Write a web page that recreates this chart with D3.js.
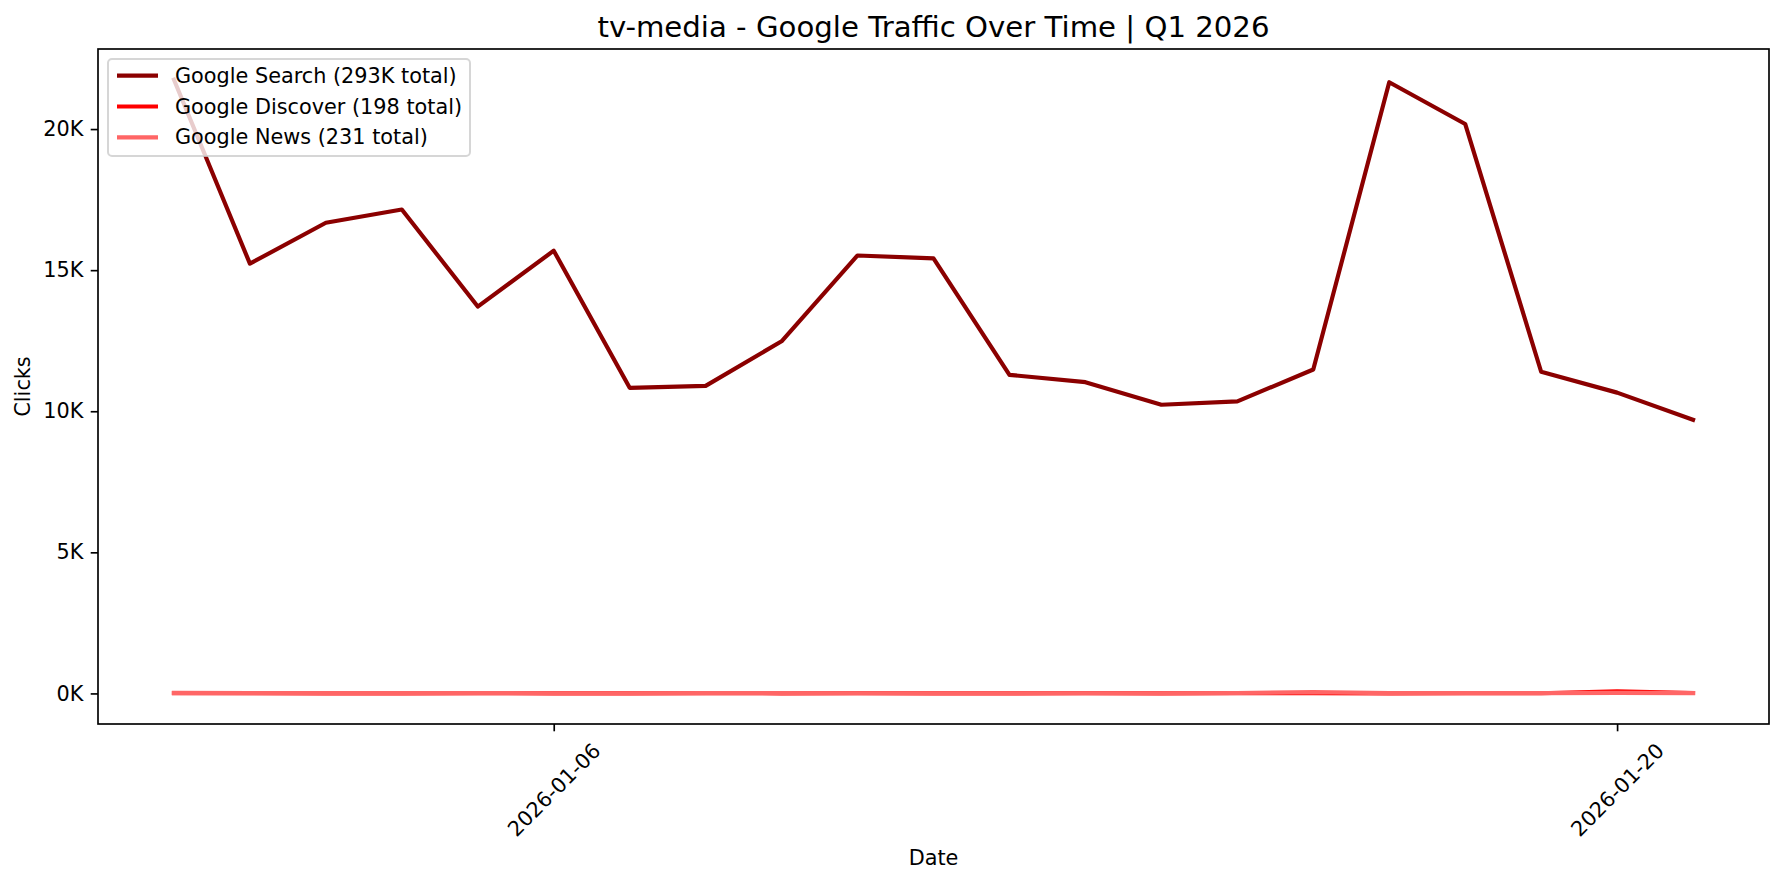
<!DOCTYPE html>
<html>
<head>
<meta charset="utf-8">
<script src="https://cdn.jsdelivr.net/npm/d3@7"></script>
<style>
  html, body { margin: 0; padding: 0; background: #fff; }
  svg { display: block; font-family: "DejaVu Sans", sans-serif; }
</style>
</head>
<body>
<svg id="chart" width="1784" height="883"></svg>
<script>
// ---- data ----
const dates = ["2026-01-01","2026-01-02","2026-01-03","2026-01-04","2026-01-05","2026-01-06","2026-01-07",
               "2026-01-08","2026-01-09","2026-01-10","2026-01-11","2026-01-12","2026-01-13","2026-01-14",
               "2026-01-15","2026-01-16","2026-01-17","2026-01-18","2026-01-19","2026-01-20","2026-01-21"];
const searchClicks = [21750,15230,16680,17150,13710,15690,10830,10900,12480,15520,15420,11290,11030,10230,
                      10350,11480,21660,20180,11400,10660,9700];
const discoverClicks = [8,6,5,5,7,4,5,6,5,6,5,4,6,5,7,9,5,6,7,70,17];
const newsClicks = [18,10,8,8,10,6,7,9,8,7,6,6,7,7,14,45,8,9,10,18,10];
const seriesNames = ["Google Search","Google Discover","Google News"];
const seriesColors = ["#8b0000","#ff0000","#ff6666"];
const xTickDates = ["2026-01-06","2026-01-20"];
const yTickValues = [0,5000,10000,15000,20000];
const titleText = "tv-media - Google Traffic Over Time | Q1 2026";
const xLabel = "Date";
const yLabel = "Clicks";

(function () {
  // ---- layout ----
  const W = 1784, H = 883;
  const pL = 98, pR = 1769, pT = 49, pB = 724;
  const svg = d3.select("#chart");
  svg.append("rect").attr("width", W).attr("height", H).attr("fill", "#fff");

  const parse = d3.utcParse("%Y-%m-%d");
  const xs = dates.map(parse);
  const series = [searchClicks, discoverClicks, newsClicks];

  const xMin = xs[0].getTime(), xMax = xs[xs.length - 1].getTime();
  const xPad = (xMax - xMin) * 0.05;
  const x = d3.scaleUtc().domain([new Date(xMin - xPad), new Date(xMax + xPad)]).range([pL, pR]);

  const allVals = series.flat();
  const vMin = d3.min(allVals), vMax = d3.max(allVals);
  const vPad = (vMax - vMin) * 0.05;
  const y = d3.scaleLinear().domain([vMin - vPad, vMax + vPad]).range([pB, pT]);

  // ---- lines ----
  const line = d3.line().x((d, i) => x(xs[i])).y(d => y(d));
  const plot = svg.append("g");
  series.forEach((s, k) => {
    plot.append("path")
      .datum(s)
      .attr("d", line)
      .attr("fill", "none")
      .attr("stroke", seriesColors[k])
      .attr("stroke-width", 4.17)
      .attr("stroke-linejoin", "round")
      .attr("stroke-linecap", "square");
  });

  // ---- axes ----
  const fs = 20.8;
  const yAxis = d3.axisLeft(y).tickValues(yTickValues).tickSize(7.3).tickPadding(7.3)
    .tickFormat(d => (d / 1000) + "K");
  const gy = svg.append("g").attr("transform", `translate(${pL},0)`).call(yAxis);
  gy.select(".domain").remove();
  gy.selectAll(".tick line").attr("stroke", "#000").attr("stroke-width", 1.67);
  gy.selectAll(".tick text").attr("font-size", fs).attr("fill", "#000")
    .attr("font-family", "DejaVu Sans, sans-serif");

  const xAxis = d3.axisBottom(x).tickValues(xTickDates.map(parse)).tickSize(7.3)
    .tickFormat(d3.utcFormat("%Y-%m-%d"));
  const gx = svg.append("g").attr("transform", `translate(0,${pB})`).call(xAxis);
  gx.select(".domain").remove();
  gx.selectAll(".tick line").attr("stroke", "#000").attr("stroke-width", 1.67);
  gx.selectAll(".tick text")
    .attr("font-size", fs).attr("fill", "#000")
    .attr("font-family", "DejaVu Sans, sans-serif")
    .attr("y", null).attr("dy", null)
    .attr("text-anchor", "middle")
    .attr("dominant-baseline", "central")
    .attr("transform", "translate(0,66) rotate(-45)");

  // frame
  svg.append("rect")
    .attr("x", pL).attr("y", pT)
    .attr("width", pR - pL).attr("height", pB - pT)
    .attr("fill", "none").attr("stroke", "#000").attr("stroke-width", 1.67);

  // ---- labels ----
  svg.append("text").attr("x", (pL + pR) / 2).attr("y", 37)
    .attr("text-anchor", "middle").attr("font-size", 29.2).attr("fill", "#000")
    .text(titleText);
  svg.append("text").attr("x", (pL + pR) / 2).attr("y", 858)
    .attr("text-anchor", "middle").attr("dominant-baseline", "central")
    .attr("font-size", fs).attr("fill", "#000").text(xLabel);
  svg.append("text").attr("transform", `translate(23,${(pT + pB) / 2}) rotate(-90)`)
    .attr("text-anchor", "middle").attr("dominant-baseline", "central")
    .attr("font-size", fs).attr("fill", "#000").text(yLabel);

  // ---- legend ----
  function fmtTotal(t) { return t >= 1000 ? Math.round(t / 1000) + "K" : String(t); }
  const leg = svg.append("g");
  leg.append("rect").attr("x", 108).attr("y", 59).attr("width", 362).attr("height", 97)
    .attr("rx", 4).attr("ry", 4)
    .attr("fill", "#fff").attr("fill-opacity", 0.8)
    .attr("stroke", "#cccccc").attr("stroke-opacity", 0.8).attr("stroke-width", 2);
  seriesNames.forEach((name, k) => {
    const cy = 75.7 + k * 30.8;
    leg.append("line").attr("x1", 117).attr("x2", 158).attr("y1", cy).attr("y2", cy)
      .attr("stroke", seriesColors[k]).attr("stroke-width", 4.17);
    leg.append("text").attr("x", 175).attr("y", cy).attr("dominant-baseline", "central")
      .attr("font-size", fs).attr("fill", "#000")
      .text(`${name} (${fmtTotal(d3.sum(series[k]))} total)`);
  });
})();
</script>
</body>
</html>
